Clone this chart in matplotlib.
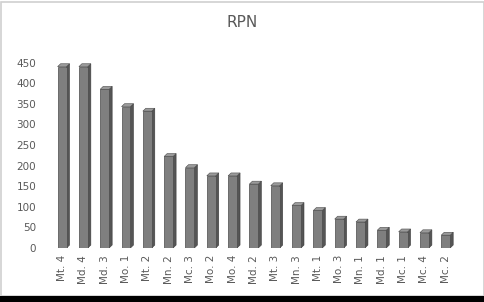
import matplotlib
matplotlib.use('Agg')
import matplotlib.pyplot as plt
from matplotlib.patches import Polygon, Rectangle

labels = ["Mt. 4", "Md. 4", "Md. 3", "Mo. 1", "Mt. 2", "Mn. 2", "Mc. 3", "Mo. 2", "Mo. 4",
          "Md. 2", "Mt. 3", "Mn. 3", "Mt. 1", "Mo. 3", "Mn. 1", "Md. 1", "Mc. 1", "Mc. 4", "Mc. 2"]
rpn = [440, 440, 385, 343, 332, 222, 195, 175, 175,
       155, 151, 103, 91, 70, 63, 43, 39, 37, 31]
yticks = [0, 50, 100, 150, 200, 250, 300, 350, 400, 450]

txt = "#595959"
fig = plt.figure(figsize=(4.85, 3.02), dpi=100)
fig.patch.set_facecolor("white")

# outer frame + black band at the bottom
fig.patches.append(Rectangle((0.003, 0.02), 0.994, 0.975, transform=fig.transFigure,
                             fill=False, edgecolor="#d0d0d0", linewidth=1.2))
fig.patches.append(Rectangle((0, 0), 1, 0.02, transform=fig.transFigure,
                             facecolor="black", edgecolor="none"))

ax = fig.add_axes([0.106, 0.179, 0.835, 0.614])
x = list(range(len(labels)))
w = 0.42
dx, dy = 0.14, 7.0

ax.bar(x, rpn, width=w, color="#7f7f7f", edgecolor="#4a4a4a", linewidth=0.5, zorder=3)
for xi, v in zip(x, rpn):
    r = xi + w / 2
    l = xi - w / 2
    side = Polygon([(r, 0), (r + dx, dy), (r + dx, v + dy), (r, v)], closed=True,
                   facecolor="#555555", edgecolor="#3a3a3a", linewidth=0.4, zorder=2)
    top = Polygon([(l, v), (l + dx, v + dy), (r + dx, v + dy), (r, v)], closed=True,
                  facecolor="#9a9a9a", edgecolor="#4a4a4a", linewidth=0.4, zorder=4)
    ax.add_patch(side)
    ax.add_patch(top)

ax.set_xlim(-0.5, len(labels) - 0.5)
ax.set_ylim(0, 450)
ax.set_yticks(yticks)
ax.set_xticks(x)
ax.set_xticklabels(labels, rotation=90)
ax.tick_params(axis="both", length=0, labelsize=7.5, labelcolor=txt)
ax.tick_params(axis="y", pad=11)
ax.tick_params(axis="x", pad=5)
for s in ax.spines.values():
    s.set_visible(False)

fig.text(0.5, 0.925, "RPN", ha="center", va="center", fontsize=11, color=txt)

fig.savefig("out.png", dpi=100)
plt.close(fig)
